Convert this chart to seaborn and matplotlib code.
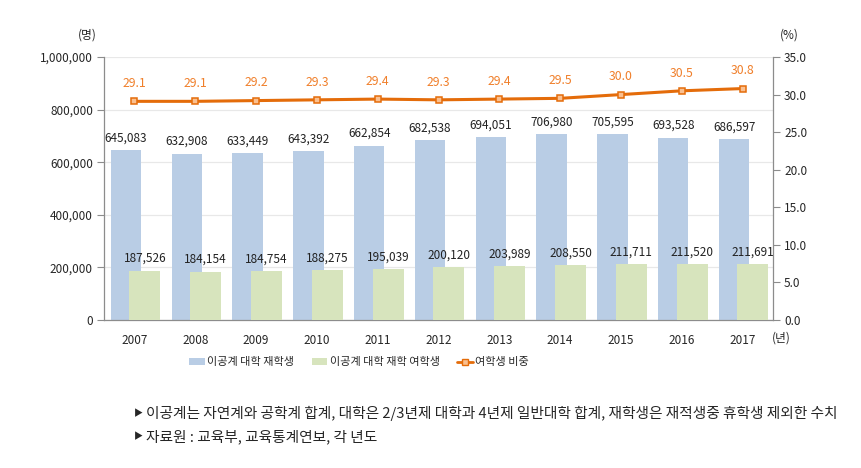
# -*- coding: utf-8 -*-
"""
    이공계 대학 재학생 및 여학생 비중 추이
"""
import numpy as np
import matplotlib
matplotlib.use('Agg')
import matplotlib.pyplot as plt
from matplotlib.patches import Patch
from matplotlib.lines import Line2D
from matplotlib.ticker import FuncFormatter, FixedLocator
import seaborn as sns

# 데이터
years = ['2007', '2008', '2009', '2010', '2011', '2012',
         '2013', '2014', '2015', '2016', '2017']
total_students = [645083, 632908, 633449, 643392, 662854, 682538,
                  694051, 706980, 705595, 693528, 686597]
female_students = [187526, 184154, 184754, 188275, 195039, 200120,
                   203989, 208550, 211711, 211520, 211691]
female_ratio = [29.1, 29.1, 29.2, 29.3, 29.4, 29.3, 29.4, 29.5, 30.0, 30.5, 30.8]

legend_labels = ['이공계 대학 재학생', '이공계 대학 재학 여학생', '여학생 비중']
notes = ['이공계는 자연계와 공학계 합계, 대학은 2/3년제 대학과 4년제 일반대학 합계, 재학생은 재적생중 휴학생 제외한 수치',
         '자료원 : 교육부, 교육통계연보, 각 년도']

blue = '#B9CDE5'
green = '#D7E4BD'
orange = '#E46C0A'
orange_text = '#F07F2A'
spine_color = '#8C8C8C'


def setup_font():
    sns.set_style('white')
    plt.rcParams['font.family'] = ['Noto Sans CJK KR', 'DejaVu Sans']
    plt.rcParams['axes.unicode_minus'] = False


def draw_chart():
    fig = plt.figure(figsize=(8.61, 4.68), dpi=100)
    ax = fig.add_axes([0.1208, 0.3162, 0.777, 0.562])

    idx = np.arange(len(years))

    # 막대 (겹쳐 그리기)
    sns.barplot(x=idx - 0.14, y=total_students, native_scale=True, width=0.5,
                color=blue, saturation=1, linewidth=0, edgecolor='none', ax=ax, zorder=2)
    sns.barplot(x=idx + 0.17, y=female_students, native_scale=True, width=0.51,
                color=green, saturation=1, linewidth=0, edgecolor='none', ax=ax, zorder=3)

    ax.bar_label(ax.containers[0], labels=[f'{v:,}' for v in total_students],
                 padding=4, fontsize=8.5, color='#222222')
    ax.bar_label(ax.containers[1], labels=[f'{v:,}' for v in female_students],
                 padding=4, fontsize=8.5, color='#222222')

    ax.set_xlim(-0.5, len(years) - 0.5)
    ax.set_ylim(0, 1000000)
    ax.set_yticks(np.arange(0, 1000001, 200000))
    ax.yaxis.set_major_formatter(FuncFormatter(lambda v, p: f'{int(v):,}'))
    ax.set_xticks(idx)
    ax.set_xticklabels(years)
    ax.xaxis.set_minor_locator(FixedLocator(np.arange(-0.5, len(years), 1.0)))
    ax.tick_params(axis='x', which='major', length=0, pad=10, labelsize=8.5)
    ax.tick_params(axis='x', which='minor', length=5, color=spine_color, width=0.8)
    ax.tick_params(axis='y', length=5, color=spine_color, width=0.8, labelsize=8.5, pad=3)
    ax.grid(axis='y', color='#E8E8E8', linewidth=0.9, zorder=0)
    ax.set_axisbelow(True)
    ax.set_xlabel('')
    ax.set_ylabel('')
    for side in ['left', 'bottom']:
        ax.spines[side].set_color(spine_color)
        ax.spines[side].set_linewidth(0.9)
    ax.spines['top'].set_visible(False)
    ax.spines['right'].set_visible(False)

    # 여학생 비중 (보조축)
    ax2 = ax.twinx()
    sns.lineplot(x=idx, y=female_ratio, ax=ax2, color=orange, linewidth=2.2,
                 marker='s', markersize=5, markerfacecolor='#FAC090',
                 markeredgecolor=orange, markeredgewidth=1.1, zorder=5)
    for i, v in zip(idx, female_ratio):
        ax2.annotate(f'{v:.1f}', (i, v), xytext=(0, 8), textcoords='offset points',
                     ha='center', va='bottom', fontsize=8.8, color=orange_text)
    ax2.set_ylim(0, 35)
    ax2.set_yticks(np.arange(0, 35.1, 5))
    ax2.yaxis.set_major_formatter(FuncFormatter(lambda v, p: f'{v:.1f}'))
    ax2.tick_params(axis='y', length=5, color=spine_color, width=0.8, labelsize=8.5, pad=3)
    ax2.spines['right'].set_color(spine_color)
    ax2.spines['right'].set_linewidth(0.9)
    for side in ['top', 'left', 'bottom']:
        ax2.spines[side].set_visible(False)
    ax2.grid(False)
    ax2.set_ylabel('')

    # 단위
    fig.text(0.101, 0.925, '(명)', fontsize=8.5, ha='center', va='center')
    fig.text(0.917, 0.925, '(%)', fontsize=8.5, ha='center', va='center')
    fig.text(0.908, 0.277, '(년)', fontsize=8.5, ha='center', va='center')

    # 범례
    handles = [Patch(facecolor=blue, edgecolor='none'),
               Patch(facecolor=green, edgecolor='none'),
               Line2D([0], [0], color=orange, linewidth=2, marker='s', markersize=4,
                      markerfacecolor='#FAC090', markeredgecolor=orange)]
    fig.legend(handles, legend_labels, loc='center', bbox_to_anchor=(0.417, 0.226),
               ncol=3, frameon=False, fontsize=8, handlelength=1.4,
               handleheight=0.6, handletextpad=0.2, columnspacing=1.6)

    # 주석
    for y, note in zip([0.117, 0.066], notes):
        fig.text(0.155, y, '▶', fontsize=6.5, ha='left', va='center')
        fig.text(0.169, y, note, fontsize=10.6, ha='left', va='center')

    fig.savefig('out.png', dpi=100)


def main():
    setup_font()
    draw_chart()


if __name__ == '__main__':
    main()
